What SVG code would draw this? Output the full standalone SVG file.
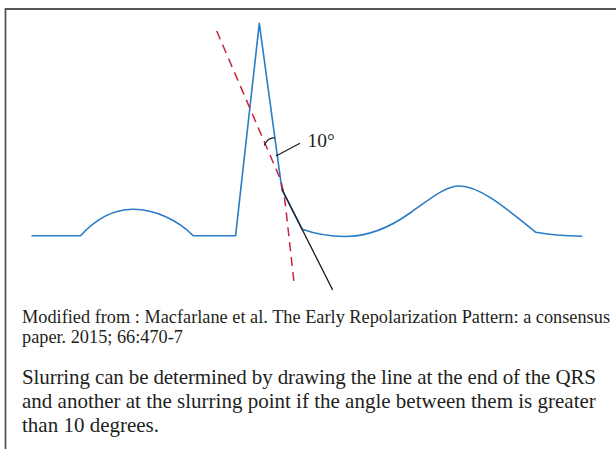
<svg xmlns="http://www.w3.org/2000/svg" width="616" height="449" viewBox="0 0 616 449">
  <style>
    .frame { fill: none; stroke: #555555; stroke-width: 1.8; }
    .ecg { fill: none; stroke: #2a7cc6; stroke-width: 1.6; stroke-linejoin: round; }
    .tangent { fill: none; stroke: #c8233c; stroke-width: 1.5; stroke-dasharray: 9 6; }
    .slur { fill: none; stroke: #1a1a1a; stroke-width: 1.3; }
    .mark { fill: none; stroke: #1a1a1a; stroke-width: 1.2; }
    .txt { font-family: "Liberation Serif", "Times New Roman", serif; fill: #231f20; }
  </style>
  <rect width="616" height="449" fill="#ffffff"/>
  <path class="frame" d="M5.5,449 V9 H616"/>
  <g id="ecg-trace">
    <path class="ecg" d="M31.5,235.7 H80.5 C96,219 113,209 133.5,209.3 C155,209.5 178,220 193.2,235.7 H235.6 L259.3,23.3 L281.9,189.3 L302.3,229.3 C318,235 332,236.5 345,236.5 C362,236.5 385,231 410,213 C430,199 445,186 459.4,186 C478,186 500,203 535.9,232.3 C550,235 565,236 582.3,236.3"/>
  </g>
  <g id="connectors">
    <path id="qrs-end-line" class="tangent" d="M216.7,31 L279,176 Q283.4,186.3 286,210 L294,282.3"/>
    <path id="slurring-line" class="slur" d="M281.9,189.3 L332.7,290"/>
  </g>
  <g id="angle-label">
    <path class="mark" d="M264.3,145.5 Q268,137 275,138"/>
    <path class="mark" d="M276,156 L300,143.3"/>
    <text class="txt" x="307.5" y="146.5" font-size="19.5">10°</text>
  </g>
  <g id="caption">
    <text class="txt" x="22" y="322.7" font-size="18.3" textLength="588" lengthAdjust="spacing">Modified from : Macfarlane et al. The Early Repolarization Pattern: a consensus</text>
    <text class="txt" x="22" y="343.3" font-size="18.3">paper. 2015; 66:470-7</text>
  </g>
  <g id="description">
    <text class="txt" x="22" y="384.3" font-size="21" textLength="574" lengthAdjust="spacing">Slurring can be determined by drawing the line at the end of the QRS</text>
    <text class="txt" x="22" y="408" font-size="21">and another at the slurring point if the angle between them is greater</text>
    <text class="txt" x="22" y="432" font-size="21">than 10 degrees.</text>
  </g>
</svg>
